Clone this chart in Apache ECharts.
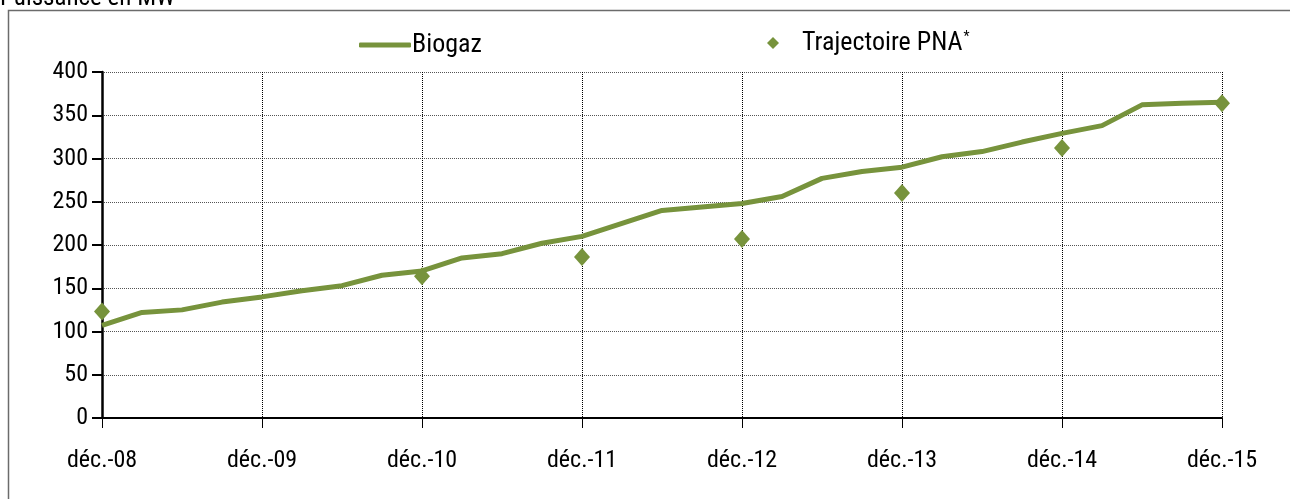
<!DOCTYPE html>
<html>
<head>
<meta charset="utf-8">
<script src="https://cdn.jsdelivr.net/npm/echarts@6/dist/echarts.min.js"></script>
<style>
html,body{margin:0;padding:0;background:#fff;}
#c{width:1290px;height:499px;}
</style>
</head>
<body>
<div id="c"></div>
<script>
var categories = ["déc.-08","mars-09","juin-09","sept.-09","déc.-09","mars-10","juin-10","sept.-10","déc.-10","mars-11","juin-11","sept.-11","déc.-11","mars-12","juin-12","sept.-12","déc.-12","mars-13","juin-13","sept.-13","déc.-13","mars-14","juin-14","sept.-14","déc.-14","mars-15","juin-15","sept.-15","déc.-15"];
var biogaz = [107,122,125,134,140,147,153,165,170,185,190,202,210,225,240,244,248,256,277,285,290,302,308,319,329,338,362,364,365];
var pna = [123,null,null,null,null,null,null,null,164,null,null,null,186,null,null,null,207,null,null,null,260,null,null,null,312,null,null,null,364];
var yTicks = [0,50,100,150,200,250,300,350,400];

var FONT = '"Roboto Condensed","DejaVu Sans Condensed",sans-serif';
var GREEN = '#77933c';

var chart = echarts.init(document.getElementById('c'), null, {renderer:'canvas'});
chart.setOption({
  animation:false,
  backgroundColor:'#fff',
  textStyle:{fontFamily:FONT},
  graphic:[
    {type:'rect', shape:{x:8.5,y:10.5,width:1300,height:500}, style:{fill:'none', stroke:'#6b6b6b', lineWidth:1.5}, z:-1},
    {type:'text', x:0, y:11, style:{text:'Puissance en MW', font:'25px '+FONT, fill:'#000', verticalAlign:'bottom'}}
  ],
  legend:[
    {data:['Biogaz'], left:354, top:27, itemWidth:52, itemHeight:5, icon:'roundRect',
     textStyle:{fontSize:26, color:'#000', fontFamily:FONT, padding:[0,0,0,-4]}},
    {data:['Trajectoire PNA'], left:762, top:25, itemWidth:12, itemHeight:12, icon:'diamond',
     formatter:function(n){return '{a|'+n+'}{s|*}';},
     textStyle:{fontSize:26, color:'#000', fontFamily:FONT, padding:[0,0,0,18],
       rich:{a:{fontSize:26, fontFamily:FONT, color:'#000'}, s:{fontSize:14, verticalAlign:'top', padding:[0,0,12,1], color:'#000'}}}}
  ],
  grid:{left:102, right:68, top:72, bottom:81, containLabel:false},
  xAxis:{
    type:'category', data:categories, boundaryGap:false,
    axisLine:{lineStyle:{color:'#000', width:2}},
    axisTick:{interval:3, length:10, lineStyle:{color:'#000', width:1}},
    axisLabel:{interval:3, margin:31, fontSize:24, color:'#000', fontFamily:FONT},
    splitLine:{show:true, interval:3, lineStyle:{color:'#000', type:[1,1], width:1}}
  },
  yAxis:{
    type:'value', min:0, max:400, interval:50,
    axisLine:{show:true, lineStyle:{color:'#000', width:2.5}},
    axisTick:{show:true, length:10, lineStyle:{color:'#000', width:2}},
    axisLabel:{margin:14, fontSize:24, color:'#000', fontFamily:FONT,
      formatter:function(v){return yTicks.indexOf(v)>=0?String(v):'';}},
    splitLine:{show:true, lineStyle:{color:'#555', type:[1,1], width:1}}
  },
  series:[
    {name:'Biogaz', type:'line', data:biogaz, symbol:'none', lineStyle:{color:GREEN, width:5}, itemStyle:{color:GREEN}, z:2},
    {name:'Trajectoire PNA', type:'scatter', data:pna, symbol:'diamond', symbolSize:[16,18], itemStyle:{color:GREEN, opacity:1}, z:3}
  ]
});
</script>
</body>
</html>
